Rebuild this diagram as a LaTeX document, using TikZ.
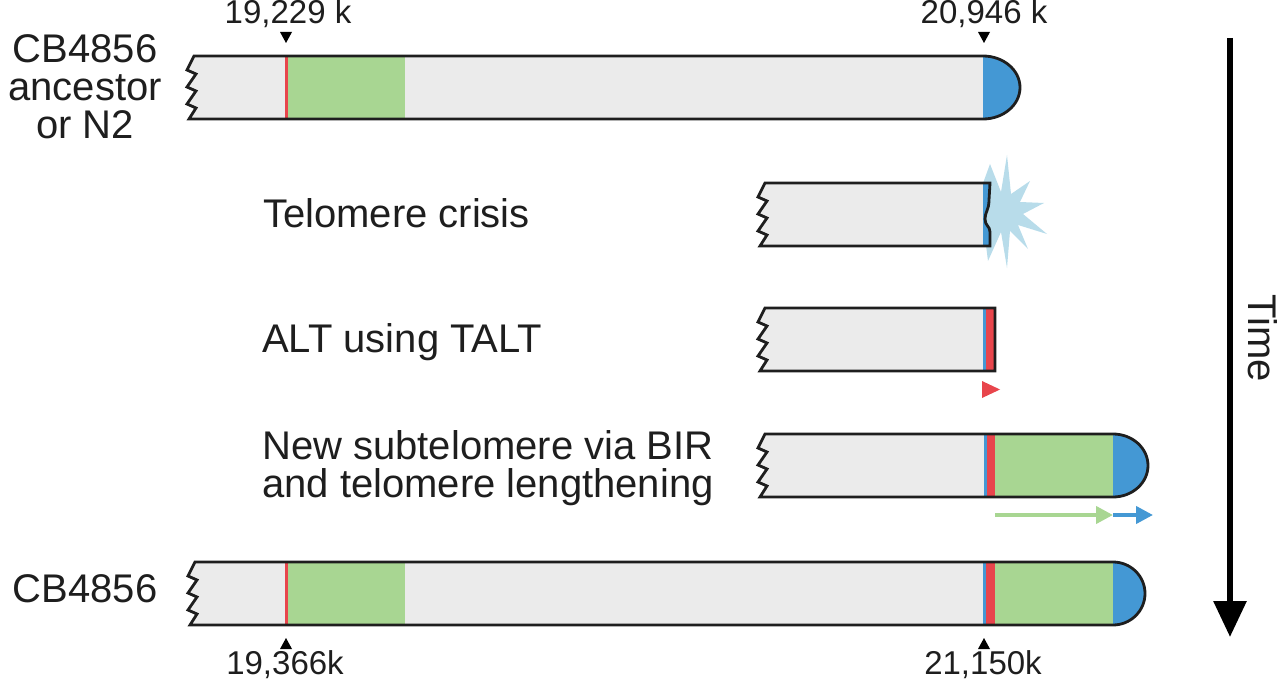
\documentclass[tikz,border=0pt]{standalone}
\usepackage{fontspec}
\setmainfont{Liberation Sans}
\usetikzlibrary{arrows.meta}
\definecolor{chrgray}{RGB}{235,235,235}
\definecolor{chrgreen}{RGB}{168,214,146}
\definecolor{chrblue}{RGB}{68,152,212}
\definecolor{chrred}{RGB}{232,69,76}
\definecolor{chrstar}{RGB}{184,220,234}
\definecolor{chrline}{RGB}{30,30,30}
\definecolor{txt}{RGB}{30,30,30}
\begin{document}
\begin{tikzpicture}[x=1pt,y=-1pt,
  zig/.style={insert path={-- ++(-7,14) -- ++(9,4) -- ++(-9,13) -- ++(9,4) -- ++(-9,13) -- ++(9,4) -- ++(-7,11)}},
  outline/.style={draw=chrline, line width=2.8pt, line join=miter},
  big/.style={font=\fontsize{40}{38}\selectfont, inner sep=0pt, text=txt},
  small/.style={font=\fontsize{33}{36}\selectfont, inner sep=0pt, text=txt},
  marker/.style={fill=black},
]
\useasboundingbox (0,0) rectangle (1280,682);

% ---------- Row 1: ancestor ----------
\fill[chrgray] (194,56) [zig] -- (983,119) arc[start angle=90,end angle=-90,x radius=37,y radius=31.5] -- cycle;
\fill[chrgreen] (286,56) rectangle (405,119);
\fill[chrred] (285,56) rectangle (287.5,119);
\fill[chrblue] (983,119) arc[start angle=90,end angle=-90,x radius=37,y radius=31.5] -- cycle;
\draw[outline] (194,56) [zig] -- (983,119) arc[start angle=90,end angle=-90,x radius=37,y radius=31.5] -- cycle;
\fill[marker] (280,32) -- (292,32) -- (286,43) -- cycle;
\fill[marker] (978,32) -- (990,32) -- (984,43) -- cycle;
\node[small] (l1) at (288,14) {19,229 k};
\node[small] (l2) at (984,14) {20,946 k};
\node[big, align=center, anchor=north] (anc) at (85,34) {CB4856\\ancestor\\or N2};

% ---------- Row 2: telomere crisis ----------
\fill[chrstar, shift={(1003,212)}] (4,-57) -- (8,-18) -- (27,-31) -- (17,-10) -- (41,-9) -- (20,2) -- (44,22) -- (15,13) -- (25,37) -- (7,19) -- (4,56) -- (-2,20) -- (-15,49) -- (-20,10) -- (-25,-15) -- (-13,-48) -- (-2,-20) -- cycle;
\fill[chrgray] (765,183) [zig] -- (990,246) -- (990,232) .. controls (990,226) and (985,226) .. (985,219) .. controls (985,212) and (989,210) .. (989,200) -- (990,183) -- cycle;
\fill[chrblue] (983,183) -- (983,246) -- (990,246) -- (990,232) .. controls (990,226) and (985,226) .. (985,219) .. controls (985,212) and (989,210) .. (989,200) -- (990,183) -- cycle;
\draw[outline] (765,183) [zig] -- (990,246) -- (990,232) .. controls (990,226) and (985,226) .. (985,219) .. controls (985,212) and (989,210) .. (989,200) -- (990,183) -- cycle;
\node[big, anchor=base west] (crisis) at (263,227) {Telomere crisis};

% ---------- Row 3: ALT using TALT ----------
\fill[chrgray] (765,308) [zig] -- (995,371) -- (995,308) -- cycle;
\fill[chrblue] (983,308) rectangle (985.5,371);
\fill[chrred] (985.5,308) rectangle (995,371);
\draw[outline] (765,308) [zig] -- (995,371) -- (995,308) -- cycle;
\fill[chrred] (982,381) -- (1000,389.5) -- (982,398) -- cycle;
\node[big, anchor=base west] (alt) at (262,352) {ALT using TALT};

% ---------- Row 4: BIR ----------
\fill[chrgray] (765,434) [zig] -- (1113,497) arc[start angle=90,end angle=-90,x radius=35,y radius=31.5] -- cycle;
\fill[chrblue] (984,434) rectangle (987,497);
\fill[chrred] (987,434) rectangle (995,497);
\fill[chrgreen] (995,434) rectangle (1113,497);
\fill[chrblue] (1113,497) arc[start angle=90,end angle=-90,x radius=35,y radius=31.5] -- cycle;
\draw[outline] (765,434) [zig] -- (1113,497) arc[start angle=90,end angle=-90,x radius=35,y radius=31.5] -- cycle;
\coordinate (g0) at (995,515);
\coordinate (g1) at (1113,515);
\coordinate (b1) at (1153,515);
\draw[chrgreen, line width=4pt, -{Triangle[length=17pt,width=17pt]}] (g0) -- (g1);
\draw[chrblue, line width=4pt, -{Triangle[length=17pt,width=17pt]}] (g1) -- (b1);
\node[big, align=left, anchor=north west] (bir) at (262,430) {New subtelomere via BIR\\and telomere lengthening};

% ---------- Row 5: CB4856 ----------
\fill[chrgray] (195,562) [zig] -- (1113,625) arc[start angle=90,end angle=-90,x radius=32,y radius=31.5] -- cycle;
\fill[chrgreen] (286,562) rectangle (405,625);
\fill[chrred] (285,562) rectangle (287.5,625);
\fill[chrblue] (983,562) rectangle (986,625);
\fill[chrred] (986,562) rectangle (995,625);
\fill[chrgreen] (995,562) rectangle (1113,625);
\fill[chrblue] (1113,625) arc[start angle=90,end angle=-90,x radius=32,y radius=31.5] -- cycle;
\draw[outline] (195,562) [zig] -- (1113,625) arc[start angle=90,end angle=-90,x radius=32,y radius=31.5] -- cycle;
\fill[marker] (286,638) -- (292,649) -- (280,649) -- cycle;
\fill[marker] (984,638) -- (990,649) -- (978,649) -- cycle;
\node[small] (l3) at (285,665) {19,366k};
\node[small] (l4) at (983,665) {21,150k};
\node[big, anchor=base] (cb) at (85,602) {CB4856};

% ---------- Time arrow ----------
\coordinate (t0) at (1230,38);
\coordinate (t1) at (1230,637);
\draw[black, line width=6pt, -{Triangle[length=36pt,width=32pt]}] (t0) -- (t1);
\node[big, rotate=-90] (time) at (1263,338) {Time};
\end{tikzpicture}
\end{document}
